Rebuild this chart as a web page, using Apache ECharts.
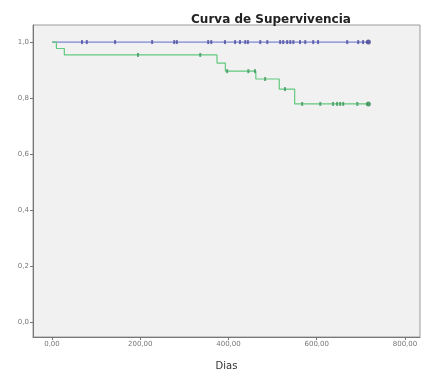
<!DOCTYPE html>
<html>
<head>
<meta charset="utf-8">
<script src="https://cdn.jsdelivr.net/npm/echarts@6/dist/echarts.min.js"></script>
<style>html,body{margin:0;padding:0;background:#fff;}#c{width:424px;height:369px;}</style>
</head>
<body>
<div id="c"></div>
<script>
const xTicks = [0, 200, 400, 600, 800];
const yTicks = [0, 0.2, 0.4, 0.6, 0.8, 1.0];
// Group 1 (blue): no events
const blueTimes = [0, 717];
const blueSurv = [1, 1];
const blueCensored = [68, 79, 143, 227, 277, 283, 354, 361, 392, 415, 426, 438, 444, 472, 488, 517, 524, 533, 540, 547, 562, 574, 592, 603, 669, 694, 705];
const blueLast = [717];
// Group 2 (green)
const greenTimes = [0, 10, 28, 374, 393, 462, 515, 550, 717];
const greenSurv = [1, 0.977, 0.954, 0.925, 0.896, 0.868, 0.832, 0.779, 0.779];
const greenCensored = [195, 336, 397, 445, 460, 483, 528, 567, 608, 637, 646, 653, 660, 692];
const greenLast = [717];

function survAt(times, surv, t) {
  let s = surv[0];
  for (let i = 0; i < times.length; i++) { if (times[i] <= t) s = surv[i]; }
  return s;
}
const blueLine = blueTimes.map((t, i) => [t, blueSurv[i]]);
const greenLine = greenTimes.map((t, i) => [t, greenSurv[i]]);
const blueMarks = blueCensored.map(t => [t, survAt(blueTimes, blueSurv, t)]);
const greenMarks = greenCensored.map(t => [t, survAt(greenTimes, greenSurv, t)]);
const blueEnd = blueLast.map(t => [t, survAt(blueTimes, blueSurv, t)]);
const greenEnd = greenLast.map(t => [t, survAt(greenTimes, greenSurv, t)]);

const fmt = v => v.toFixed(2).replace('.', ',');
const fmtY = v => v.toFixed(1).replace('.', ',');

const chart = echarts.init(document.getElementById('c'), null, {renderer: 'canvas'});
chart.setOption({
  backgroundColor: '#ffffff',
  animation: false,
  title: {
    text: 'Curva de Supervivencia',
    left: 266, top: 9, textAlign: 'center',
    textStyle: {fontFamily: 'DejaVu Sans', fontWeight: 'bold', fontSize: 12, color: '#222'}
  },
  grid: {left: 33, right: 4, top: 25, bottom: 32, outerBoundsMode: 'none', containLabel: false, show: true, backgroundColor: '#f1f1f1', borderColor: '#9a9a9a', borderWidth: 1},
  xAxis: {
    type: 'value', min: -43, max: 834,
    name: 'Dias', nameLocation: 'middle', nameGap: 24,
    nameTextStyle: {fontFamily: 'DejaVu Sans', fontSize: 10, color: '#333'},
    axisLine: {show: true, onZero: false, lineStyle: {color: '#777', width: 1}},
    axisTick: {show: true, customValues: xTicks, length: 3, lineStyle: {color: '#777'}},
    axisLabel: {customValues: xTicks, formatter: fmt, fontFamily: 'DejaVu Sans', fontSize: 7, color: '#777', margin: 4},
    splitLine: {show: false}
  },
  yAxis: {
    type: 'value', min: -0.054, max: 1.061,
    axisLine: {show: true, onZero: false, lineStyle: {color: '#777', width: 1}},
    axisTick: {show: true, customValues: yTicks, length: 3, lineStyle: {color: '#777'}},
    axisLabel: {customValues: yTicks, formatter: fmtY, fontFamily: 'DejaVu Sans', fontSize: 7, color: '#777', margin: 4},
    splitLine: {show: false}
  },
  series: [
    {type: 'line', data: blueLine, step: 'end', symbol: 'none', lineStyle: {color: '#7f84d6', width: 1.2}, z: 3},
    {type: 'line', data: greenLine, step: 'end', symbol: 'none', lineStyle: {color: '#62c97e', width: 1.2}, z: 3},
    {type: 'scatter', data: blueMarks, symbol: 'rect', symbolSize: [2, 4], itemStyle: {color: '#4b4f9e'}, z: 4},
    {type: 'scatter', data: greenMarks, symbol: 'rect', symbolSize: [2, 4], itemStyle: {color: '#3f9a5c'}, z: 4},
    {type: 'scatter', data: blueEnd, symbol: 'circle', symbolSize: 5, itemStyle: {color: '#3a3e8c'}, z: 5},
    {type: 'scatter', data: greenEnd, symbol: 'circle', symbolSize: 5, itemStyle: {color: '#2f8a4c'}, z: 5}
  ]
});
</script>
</body>
</html>
